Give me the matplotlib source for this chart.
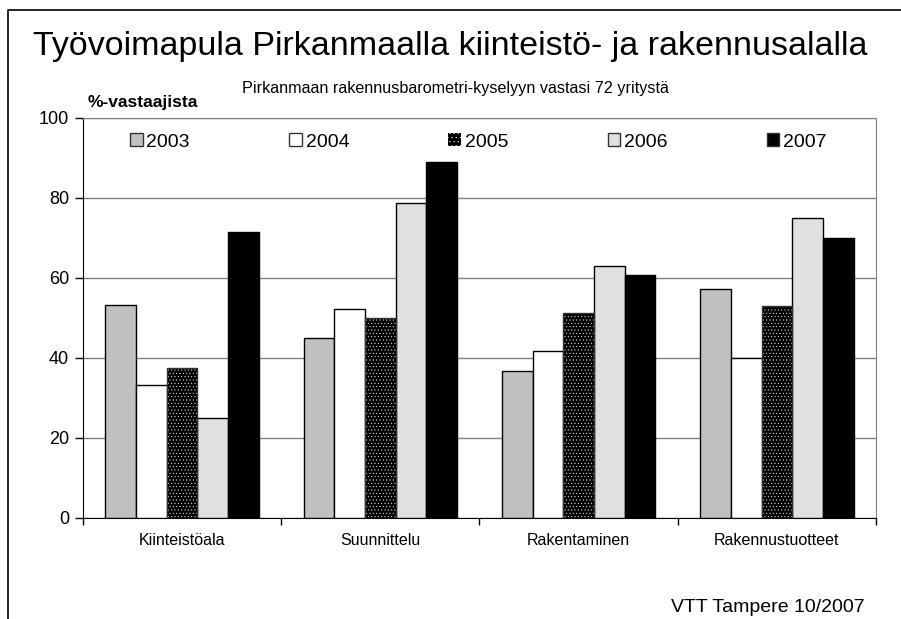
import numpy as np
import matplotlib
matplotlib.use("Agg")
import matplotlib.pyplot as plt
from matplotlib.patches import Patch
from matplotlib.lines import Line2D

plt.rcParams['font.family'] = ['Liberation Sans', 'DejaVu Sans']
plt.rcParams['hatch.color'] = 'white'
plt.rcParams['hatch.linewidth'] = 0.3

categories = ['Kiinteistöala', 'Suunnittelu', 'Rakentaminen', 'Rakennustuotteet']
years = ['2003', '2004', '2005', '2006', '2007']
v2003 = [53.3, 45.0, 36.8, 57.2]
v2004 = [33.3, 52.2, 41.7, 40.0]
v2005 = [37.5, 50.0, 51.3, 53.0]
v2006 = [25.0, 78.7, 63.1, 75.0]
v2007 = [71.5, 89.0, 60.7, 70.1]
series = [v2003, v2004, v2005, v2006, v2007]

title = 'Työvoimapula Pirkanmaalla kiinteistö- ja rakennusalalla'
subtitle = 'Pirkanmaan rakennusbarometri-kyselyyn vastasi 72 yritystä'
ylabel = '%-vastaajista'
source = 'VTT Tampere 10/2007'

faces = ['#c0c0c0', 'white', 'black', '#e0e0e0', 'black']

fig = plt.figure(figsize=(9.01, 6.19), dpi=100)
ax = fig.add_axes([83 / 901, 1 - 518 / 619, 793 / 901, 400 / 619])

x = np.arange(len(categories))
w = 0.155
for i, vals in enumerate(series):
    pos = x + (i - 2) * w
    if i == 2:
        # black with white dots
        ax.bar(pos, vals, w, color='black', edgecolor='white', linewidth=0,
               hatch='.....', zorder=3)
        ax.bar(pos, vals, w, fill=False, edgecolor='#333333', linewidth=1, zorder=4)
    else:
        ax.bar(pos, vals, w, color=faces[i], edgecolor='black', linewidth=1, zorder=3)

ax.set_xlim(-0.5, 3.5)
ax.set_ylim(0, 100)
ax.set_yticks([0, 20, 40, 60, 80, 100])
ax.tick_params(axis='y', labelsize=13, direction='out', length=6, width=1, pad=4)
ax.set_xticks(x)
ax.set_xticklabels(categories)
ax.tick_params(axis='x', which='major', length=0, labelsize=11.5, pad=11)
ax.set_xticks(np.arange(-0.5, 4, 1), minor=True)
ax.tick_params(axis='x', which='minor', direction='out', length=5, width=1)

ax.yaxis.grid(True, color='#808080', linewidth=1, zorder=0)
ax.set_axisbelow(True)
ax.spines['top'].set_color('#808080')
ax.spines['right'].set_color('#808080')
ax.spines['left'].set_color('black')
ax.spines['bottom'].set_color('black')

handles = []
for i in range(5):
    if i == 2:
        handles.append(Patch(facecolor='black', edgecolor='white', hatch='....', linewidth=0))
    else:
        handles.append(Patch(facecolor=faces[i], edgecolor='#333333', linewidth=1))
leg = ax.legend(handles, years, ncol=5, loc='center left',
                bbox_to_anchor=(44 / 793, 94 / 100), frameon=True, fontsize=14,
                handlelength=0.65, handleheight=0.65, handletextpad=0.2,
                columnspacing=5.1, borderpad=0.15, borderaxespad=0)
leg.get_frame().set_edgecolor('white')
leg.get_frame().set_linewidth(0)
leg.get_frame().set_boxstyle('square', pad=0)

fig.text(450 / 901, 1 - 47 / 619, title, ha='center', va='center', fontsize=24.5)
fig.text(455 / 901, 1 - 88 / 619, subtitle, ha='center', va='center', fontsize=11.6)
fig.text(88 / 901, 1 - 103 / 619, ylabel, ha='left', va='center', fontsize=12.5,
         fontweight='bold')
fig.text(865 / 901, 1 - 607 / 619, source, ha='right', va='center', fontsize=14)

# outer frame (left and top edges)
fig.add_artist(Line2D([8 / 901, 8 / 901, 1.0], [0.0, 1 - 10 / 619, 1 - 10 / 619],
                      transform=fig.transFigure, color='black', linewidth=1.2))

fig.savefig('out.png', dpi=100)
